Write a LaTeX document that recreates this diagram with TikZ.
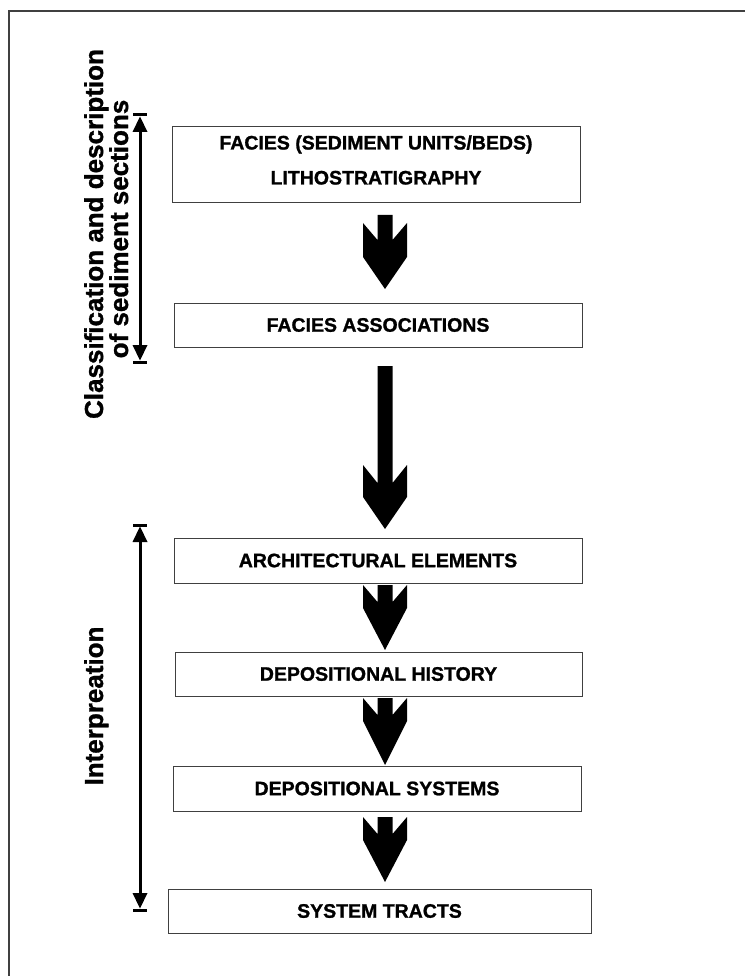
\documentclass[tikz,border=0pt]{standalone}
\usepackage{fontspec}
\setmainfont{Liberation Sans}[BoldFont={Liberation Sans Bold}]
\newfontfamily\boldsans{Liberation Sans Bold}[FakeBold=1.2]
\newcommand\fatarr[6]{% name, top, barb, notch, side, tip
  \fill[black] (377.5,-#2) -- (392.5,-#2) -- (392.5,-#4) -- (407,-#3) -- (407,-#5)
    -- (385,-#6) coordinate (#1) -- (363,-#5) -- (363,-#3) -- (377.5,-#4) -- cycle;}
\begin{document}
\begin{tikzpicture}[x=1pt,y=1pt,
  boxtxt/.style={inner sep=0pt,font=\boldsans\fontsize{19.5}{35}\selectfont,align=center},
  boxst/.style={boxtxt,draw=black!75,line width=1pt},
  sidetext/.style={rotate=90,anchor=base,font=\boldsans\fontsize{26}{26}\selectfont,align=center},
  brk/.style={line width=3pt,black}]
\useasboundingbox (0,0) rectangle (745,-976);
\draw[black!75,line width=1.5pt] (9,-976) -- (9,-11) -- (745,-11);

% boxes
\node[boxst,minimum width=408,minimum height=76] (b1) at (376,-165) {};
\node[boxtxt] (b1t) at ([yshift=5pt]b1.center)
  {FACIES (SEDIMENT UNITS/BEDS)\\LITHOSTRATIGRAPHY};
\node[boxst,minimum width=408,minimum height=44] (b2) at (378,-325) {FACIES ASSOCIATIONS};
\node[boxst,minimum width=408,minimum height=45] (b3) at (378,-560.5) {ARCHITECTURAL ELEMENTS};
\node[boxst,minimum width=407,minimum height=44] (b4) at (378.5,-674) {DEPOSITIONAL HISTORY};
\node[boxst,minimum width=408,minimum height=45] (b5) at (377,-788.5) {DEPOSITIONAL SYSTEMS};
\node[boxst,minimum width=423,minimum height=44] (b6) at (379.5,-911) {SYSTEM TRACTS};

% fat arrows
\fatarr{a1}{215}{223}{240}{257}{289}
\fatarr{a0}{366}{465}{483}{497}{529}
\fatarr{a2}{585}{585}{602}{608}{650}
\fatarr{a3}{698}{698}{715}{721}{765}
\fatarr{a4}{817}{817}{834}{840}{882}

% side labels
\node[sidetext] (t1) at (103,-234) {Classification and description};
\node[sidetext] (t2) at (128,-229) {of sediment sections};
\node[sidetext] (t3) at (103,-706) {Interpreation};

% brackets
\coordinate (k1a) at (140,-115);
\coordinate (k1b) at (140,-362);
\coordinate (k2a) at (140,-525);
\coordinate (k2b) at (140,-910);
\foreach \p/\q in {k1a/k1b,k2a/k2b}{
  \draw[brk] ([yshift=-12pt]\p) -- ([yshift=12pt]\q);
  \draw[brk] ([xshift=-7pt]\p) -- ([xshift=7pt]\p);
  \draw[brk] ([xshift=-7pt]\q) -- ([xshift=7pt]\q);
  \fill ([yshift=-1.5pt]\p) -- ([xshift=7.5pt,yshift=-17pt]\p) -- ([xshift=-7.5pt,yshift=-17pt]\p) -- cycle;
  \fill ([yshift=1.5pt]\q) -- ([xshift=7.5pt,yshift=17pt]\q) -- ([xshift=-7.5pt,yshift=17pt]\q) -- cycle;
}
\end{tikzpicture}
\end{document}
